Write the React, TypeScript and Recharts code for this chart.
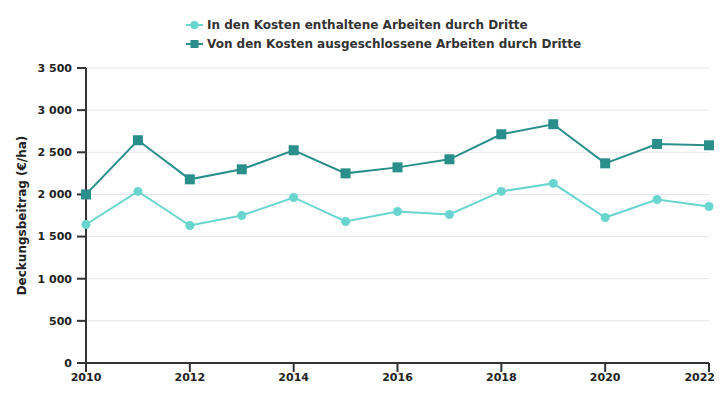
import React from "react";
import { LineChart, Line, XAxis, YAxis, CartesianGrid, Legend } from "recharts";

const years = [2010, 2011, 2012, 2013, 2014, 2015, 2016, 2017, 2018, 2019, 2020, 2021, 2022];
const enthaltene = [1643, 2036, 1631, 1750, 1964, 1679, 1798, 1762, 2036, 2131, 1726, 1940, 1857];
const ausgeschlossene = [2000, 2643, 2179, 2298, 2524, 2250, 2321, 2417, 2714, 2833, 2369, 2599, 2583];
const xTicks = [2010, 2012, 2014, 2016, 2018, 2020, 2022];
const yTicks = [0, 500, 1000, 1500, 2000, 2500, 3000, 3500];

const seriesNames = [
  "In den Kosten enthaltene Arbeiten durch Dritte",
  "Von den Kosten ausgeschlossene Arbeiten durch Dritte",
];
const LIGHT = "#6ad5cf";
const DARK = "#2a8e8a";

const data = years.map((y, i) => ({ year: y, a: enthaltene[i], b: ausgeschlossene[i] }));

const fmt = (v: number) => {
  const s = String(v);
  return s.length > 3 ? s.slice(0, s.length - 3) + " " + s.slice(-3) : s;
};

const SquareDot = (props: any) => {
  const { cx, cy } = props;
  if (cx == null || cy == null) return null;
  return <rect x={cx - 5} y={cy - 5} width={10} height={10} fill={DARK} />;
};

const XTick = (props: any) => {
  const { x, y, payload } = props;
  const last = payload.value === xTicks[xTicks.length - 1];
  return (
    <text
      x={last ? x + 6 : x}
      y={y}
      dy="0.71em"
      textAnchor={last ? "end" : "middle"}
      fill="#222"
      fontSize={11}
      fontWeight="bold"
      fontFamily="DejaVu Sans"
    >
      {payload.value}
    </text>
  );
};

const LegendContent = () => (
  <div style={{ display: "flex", flexDirection: "column", alignItems: "flex-start", marginLeft: 186, fontFamily: "DejaVu Sans", fontWeight: "bold", fontSize: 12, color: "#333" }}>
    {[0, 1].map((i) => (
      <div key={i} style={{ display: "flex", alignItems: "center", height: 19 }}>
        <svg width={17} height={12} style={{ marginRight: 4 }}>
          <line x1={0} y1={6} x2={17} y2={6} stroke={i === 0 ? LIGHT : DARK} strokeWidth={2} />
          {i === 0 ? (
            <circle cx={8.5} cy={6} r={4} fill={LIGHT} />
          ) : (
            <rect x={4.5} y={2} width={8} height={8} fill={DARK} />
          )}
        </svg>
        <span>{seriesNames[i]}</span>
      </div>
    ))}
  </div>
);

export default function App() {
  return (
    <div style={{ position: "fixed", left: 0, top: 0, width: 725, height: 400, background: "#fff" }}>
      <LineChart width={725} height={400} data={data} margin={{ top: 30, right: 16, bottom: 0, left: 0 }}>
        <Legend verticalAlign="top" align="center" content={<LegendContent />} wrapperStyle={{ top: 15, left: 0, width: 725 }} />
        <CartesianGrid horizontal={true} vertical={false} stroke="#e6e6e6" />
        <XAxis
          dataKey="year"
          type="number"
          domain={[2010, 2022]}
          ticks={xTicks}
          interval={0}
          height={37}
          stroke="#333"
          strokeWidth={2}
          tickSize={9}
          tickMargin={1}
          tick={<XTick />}
        />
        <YAxis
          domain={[0, 3500]}
          ticks={yTicks}
          interval={0}
          width={86}
          stroke="#333"
          strokeWidth={2}
          tickSize={9}
          tickMargin={5}
          tickFormatter={fmt}
          tick={{ fill: "#222", fontSize: 11, fontWeight: "bold", fontFamily: "DejaVu Sans" }}
          label={{ value: "Deckungsbeitrag (€/ha)", angle: -90, position: "insideLeft", offset: 22, style: { textAnchor: "middle", fill: "#222", fontSize: 12, fontWeight: "bold", fontFamily: "DejaVu Sans" } }}
        />
        <Line dataKey="a" name={seriesNames[0]} stroke={LIGHT} strokeWidth={2} dot={{ r: 4.5, fill: LIGHT, stroke: "none" }} activeDot={false} isAnimationActive={false} />
        <Line dataKey="b" name={seriesNames[1]} stroke={DARK} strokeWidth={2} dot={<SquareDot />} activeDot={false} isAnimationActive={false} />
      </LineChart>
    </div>
  );
}
